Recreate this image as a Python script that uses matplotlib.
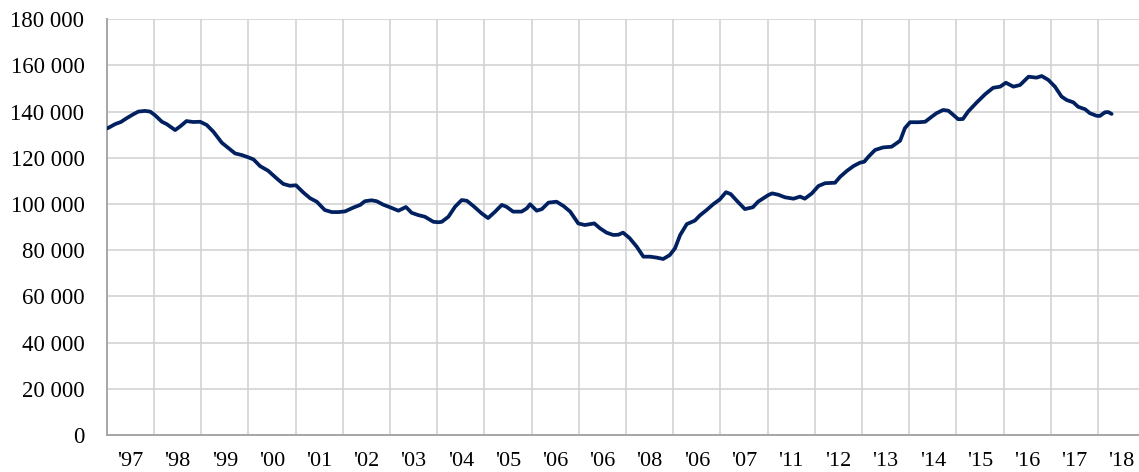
"""
Monthly series 1997-2018, line chart with year categories.
"""

import matplotlib

matplotlib.use("Agg")
import matplotlib.pyplot as plt
from matplotlib.ticker import FixedLocator, FuncFormatter, MultipleLocator

# Category labels (as printed on the original axis)
year_labels = [
    "'97", "'98", "'99", "'00", "'01", "'02", "'03", "'04", "'05", "'06", "'06",
    "'08", "'06", "'07", "'11", "'12", "'13", "'14", "'15", "'16", "'17", "'18",
]

# Position in years from the start of the first category
t_years = [
    0.02, 0.18, 0.30, 0.42, 0.56, 0.67, 0.81, 0.92, 1.02, 1.17, 1.27, 1.45,
    1.57, 1.69, 1.83, 1.98, 2.12, 2.26, 2.44, 2.58, 2.72, 2.86, 3.00, 3.11,
    3.25, 3.42, 3.60, 3.74, 3.88, 4.01, 4.17, 4.31, 4.45, 4.62, 4.77, 4.91,
    5.05, 5.22, 5.37, 5.47, 5.61, 5.72, 5.86, 6.00, 6.18, 6.34, 6.46, 6.60,
    6.74, 6.92, 7.03, 7.10, 7.24, 7.38, 7.52, 7.63, 7.77, 7.94, 8.08, 8.23,
    8.37, 8.47, 8.61, 8.79, 8.90, 8.97, 9.11, 9.22, 9.36, 9.53, 9.68, 9.82,
    9.99, 10.13, 10.33, 10.45, 10.59, 10.73, 10.84, 10.94, 11.08, 11.23,
    11.37, 11.51, 11.65, 11.79, 11.93, 12.04, 12.15, 12.29, 12.46, 12.57,
    12.71, 12.85, 12.99, 13.12, 13.22, 13.35, 13.52, 13.69, 13.80, 14.02,
    14.10, 14.23, 14.37, 14.55, 14.69, 14.79, 14.94, 15.08, 15.22, 15.43,
    15.54, 15.68, 15.82, 15.96, 16.05, 16.14, 16.28, 16.45, 16.63, 16.81,
    16.91, 17.02, 17.20, 17.34, 17.48, 17.58, 17.72, 17.83, 17.94, 18.04,
    18.14, 18.25, 18.43, 18.61, 18.78, 18.93, 19.05, 19.21, 19.35, 19.53,
    19.70, 19.81, 19.95, 20.09, 20.23, 20.34, 20.48, 20.58, 20.73, 20.83,
    20.97, 21.04, 21.15, 21.22, 21.29,
]

values = [
    132800, 134600, 135500, 137100, 138800, 140000, 140300, 140000, 138500,
    135600, 134600, 132000, 133800, 135900, 135500, 135600, 134200, 131300,
    126500, 124200, 121900, 121200, 120200, 119300, 116400, 114400, 111100,
    108700, 107900, 108100, 104900, 102500, 101000, 97400, 96500, 96500,
    96800, 98400, 99600, 101200, 101600, 101200, 99700, 98600, 97100, 98700,
    96200, 95200, 94500, 92300, 92100, 92300, 94500, 98800, 101700, 101400,
    99100, 96000, 93900, 96700, 99600, 98800, 96700, 96700, 98100, 99900,
    97100, 97800, 100600, 101000, 99100, 96700, 91600, 90900, 91600, 89500,
    87600, 86600, 86700, 87600, 85200, 81500, 77200, 77200, 76800, 76200,
    77900, 80800, 86600, 91300, 92800, 95100, 97400, 99900, 102000, 105100,
    104300, 101400, 97800, 98600, 101000, 103900, 104600, 104000, 102900,
    102300, 103200, 102300, 104600, 107800, 109000, 109200, 111800, 114300,
    116400, 117900, 118300, 120500, 123400, 124500, 124800, 127400, 132800,
    135400, 135400, 135600, 137800, 139300, 140700, 140400, 138500, 136700,
    136800, 140000, 143900, 147500, 150300, 150800, 152500, 150800, 151500,
    155100, 154700, 155400, 153700, 150800, 146500, 145000, 144000, 142100,
    141000, 139300, 138200, 138100, 139700, 139800, 139000,
]

LINE_COLOR = "#002060"
GRID_COLOR = "#d0d0d0"
SPINE_COLOR = "#a6a6a6"

plt.rcParams["font.family"] = ["Liberation Serif", "DejaVu Serif"]

fig = plt.figure(figsize=(11.39, 4.72), dpi=100)
ax = fig.add_axes([106.7 / 1139, 1 - 435 / 472, 22 * 47.2 / 1139, (435 - 19.2) / 472])

ax.plot(t_years, values, color=LINE_COLOR, linewidth=2.7,
        solid_joinstyle="round", solid_capstyle="round", zorder=3)

ax.set_xlim(0, len(year_labels))
ax.set_ylim(0, 180000)

# y axis
ax.yaxis.set_major_locator(MultipleLocator(20000))
ax.yaxis.set_major_formatter(FuncFormatter(lambda v, _: f"{int(v):,}".replace(",", " ")))

# x axis: gridlines at year boundaries, labels centred in each year
ax.xaxis.set_major_locator(FixedLocator(range(len(year_labels) + 1)))
ax.xaxis.set_minor_locator(FixedLocator([i + 0.5 for i in range(len(year_labels))]))
ax.set_xticklabels([])
ax.set_xticklabels(year_labels, minor=True)

ax.tick_params(axis="y", length=0, pad=16, labelsize=16.5, colors="black")
ax.tick_params(axis="x", which="both", length=0, pad=12, labelsize=16)

ax.grid(True, which="major", color=GRID_COLOR, linewidth=1.1)
ax.set_axisbelow(True)

for side in ("top", "right"):
    ax.spines[side].set_visible(False)
for side in ("left", "bottom"):
    ax.spines[side].set_color(SPINE_COLOR)
    ax.spines[side].set_linewidth(1.4)

fig.savefig("out.png", dpi=100)
